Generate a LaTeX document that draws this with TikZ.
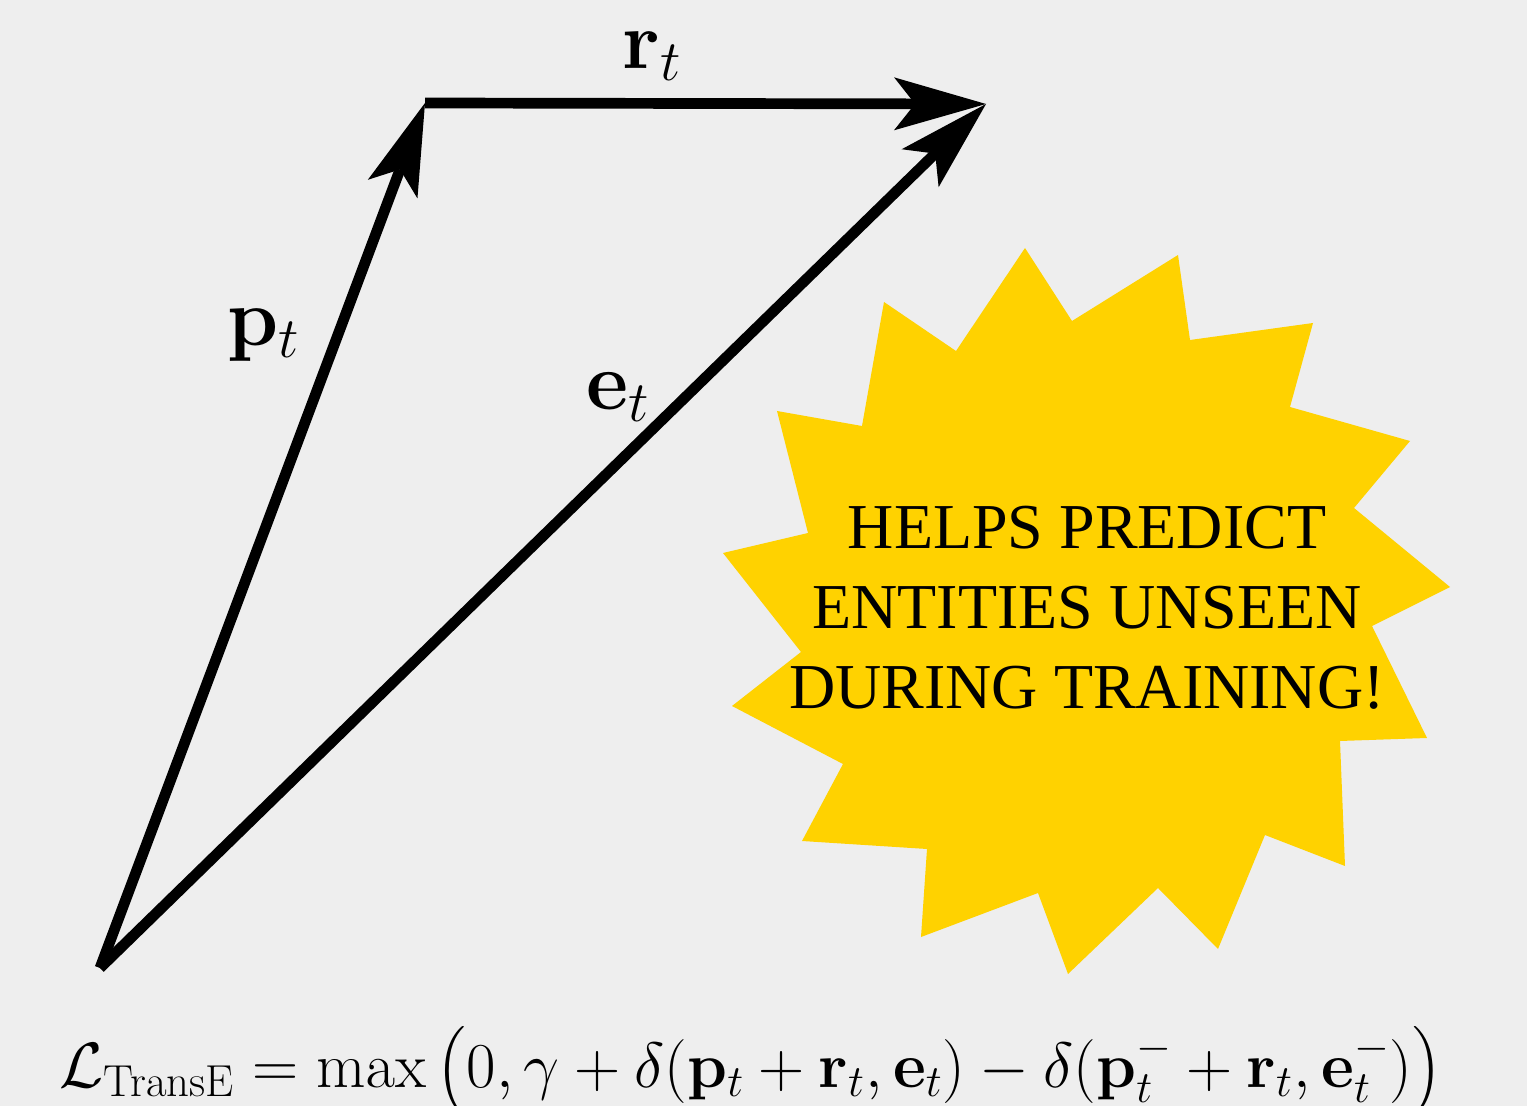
\RequirePackage{fix-cm}
\documentclass[tikz,border=0pt]{standalone}
\usepackage{amsmath}
\usepackage[no-math]{fontspec}
\newfontfamily\burstfont{Liberation Serif}
\usepackage{tikz}
\usetikzlibrary{arrows.meta}
\usepackage{xcolor}
\definecolor{paper}{HTML}{EEEEEE}
\definecolor{burst}{HTML}{FFD200}
\definecolor{ink}{HTML}{000000}

\begin{document}
\begin{tikzpicture}[x=0.5pt, y=-0.5pt, >={Stealth[length=46pt, width=26.5pt, inset=10.5pt, line width=0pt]},
  vec/.style={->, line width=5.35pt, ink},
  lbl/.style={font=\fontsize{41}{49}\selectfont, inner sep=0pt}]
\path[use as bounding box, fill=paper] (0,0) rectangle (1527,1106);
\fill[burst] plot coordinates {(1025,248) (1072,321) (1178,255) (1190,340) (1313,323) (1290,407) (1410,441) (1354,508) (1450,587) (1372,626) (1427,738) (1340,741) (1345,866) (1265,835) (1218,949) (1158,888) (1068,974) (1038,893) (921,937) (927,849) (802,841) (843,764) (732,706) (801,652) (723,553) (808,533) (777,411) (862,426) (884,302) (956,351)} -- cycle;
\node[font=\burstfont\fontsize{32}{40}\selectfont, align=center, inner sep=0pt] (claim) at (1087,608) {HELPS PREDICT\\ENTITIES UNSEEN\\DURING TRAINING!};
\coordinate (o) at (100,968);
\coordinate (p) at (425,103);
\coordinate (e) at (986,104);
\draw[vec] (o) -- (p);
\draw[vec] (p) -- (e);
\draw[vec] (o) -- (e);
\node[lbl] (plab) at (264,335) {$\mathbf{p}_t$};
\node[lbl] (rlab) at (652,56) {$\mathbf{r}_t$};
\node[lbl] (elab) at (618,397) {$\mathbf{e}_t$};
\node[font=\fontsize{32}{38}\selectfont, anchor=base, inner sep=0pt] (loss) at (751,1087) {$\displaystyle\mathcal{L}_{\text{TransE}} = \max\left(0, \gamma + \delta(\mathbf{p}_t + \mathbf{r}_t, \mathbf{e}_t) - \delta(\mathbf{p}_t^- + \mathbf{r}_t, \mathbf{e}_t^-)\right)$};
\end{tikzpicture}
\end{document}
